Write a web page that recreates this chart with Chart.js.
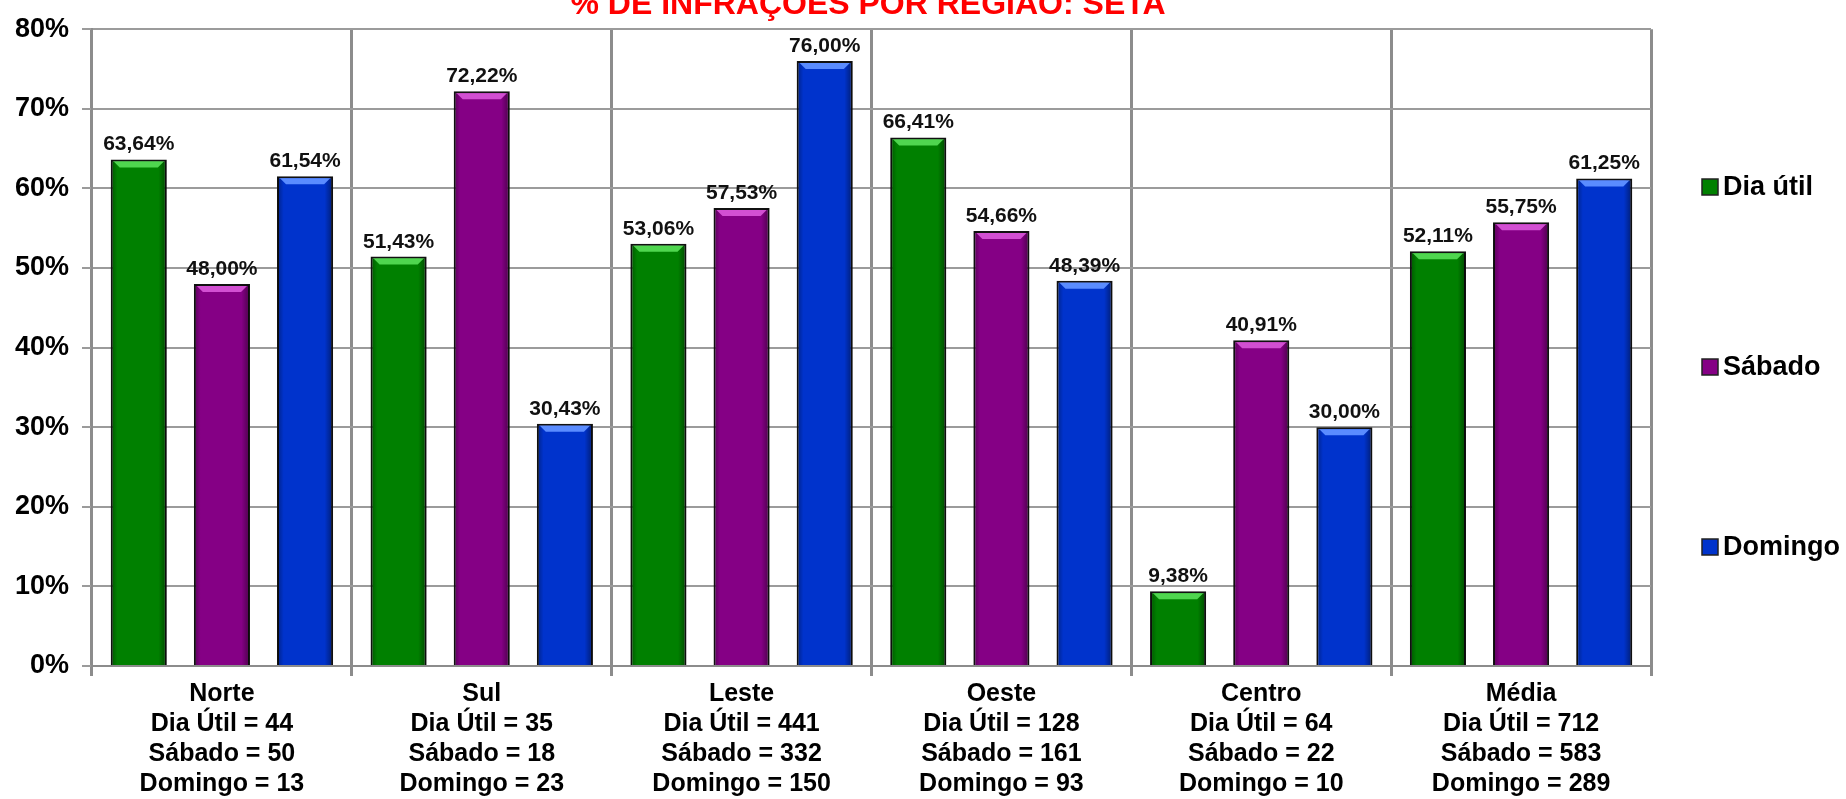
<!DOCTYPE html>
<html>
<head>
<meta charset="utf-8">
<script src="https://cdn.jsdelivr.net/npm/chart.js@4.4.1/dist/chart.umd.min.js"></script>
<style>
  html, body { margin: 0; padding: 0; background: #fff; }
  #wrap { width: 1846px; height: 799px; position: relative; }
</style>
</head>
<body>
<div id="wrap"><canvas id="chart"></canvas></div>
<script>
const titleText = "% DE INFRAÇÕES POR REGIÃO: SETA";
const regions = ["Norte", "Sul", "Leste", "Oeste", "Centro", "Média"];
const seriesNames = ["Dia útil", "Sábado", "Domingo"];

// percentuais
const diaUtil = [63.64, 51.43, 53.06, 66.41, 9.38, 52.11];
const sabado = [48.00, 72.22, 57.53, 54.66, 40.91, 55.75];
const domingo = [61.54, 30.43, 76.00, 48.39, 30.00, 61.25];

// quantidades mostradas abaixo de cada região
const nDiaUtil = [44, 35, 441, 128, 64, 712];
const nSabado = [50, 18, 332, 161, 22, 583];
const nDomingo = [13, 23, 150, 93, 10, 289];

const yTicks = [0, 10, 20, 30, 40, 50, 60, 70, 80];

const colors = ["#008000", "#850085", "#0033cc"];
const lightColors = ["#4fd64f", "#d24fd2", "#5a8cff"];
const FONT = '"Liberation Sans", Arial, sans-serif';

const labels = regions.map((r, i) => [
  r,
  "Dia Útil = " + nDiaUtil[i],
  "Sábado = " + nSabado[i],
  "Domingo = " + nDomingo[i],
]);

function fmt(v) {
  return v.toFixed(2).replace(".", ",") + "%";
}

// titulo (cortado no topo como no original)
const titlePlugin = {
  id: "titleTop",
  afterDraw(chart) {
    const ctx = chart.ctx;
    ctx.save();
    ctx.font = "bold 32px " + FONT;
    ctx.fillStyle = "#ff0000";
    ctx.textAlign = "center";
    ctx.textBaseline = "alphabetic";
    ctx.fillText(titleText, 868, 14);
    ctx.restore();
  },
};

// brilho no topo das barras + rótulos de valor
const barDeco = {
  id: "barDeco",
  afterDatasetsDraw(chart) {
    const ctx = chart.ctx;
    ctx.save();
    chart.data.datasets.forEach((ds, di) => {
      const meta = chart.getDatasetMeta(di);
      meta.data.forEach((bar, i) => {
        const w = bar.width;
        const l = bar.x - w / 2;
        const r = bar.x + w / 2;
        const t = bar.y;
        // sombra nas laterais
        const g = ctx.createLinearGradient(l, 0, r, 0);
        g.addColorStop(0, "rgba(0,0,0,0.35)");
        g.addColorStop(0.12, "rgba(0,0,0,0)");
        g.addColorStop(0.85, "rgba(0,0,0,0)");
        g.addColorStop(1, "rgba(0,0,0,0.45)");
        ctx.fillStyle = g;
        ctx.fillRect(l + 1, t + 1, w - 2, bar.base - t - 1);
        // chanfro superior
        ctx.beginPath();
        ctx.moveTo(l + 3, t + 2);
        ctx.lineTo(r - 3, t + 2);
        ctx.lineTo(r - 9, t + 8);
        ctx.lineTo(l + 9, t + 8);
        ctx.closePath();
        ctx.fillStyle = lightColors[di];
        ctx.fill();

        ctx.font = "bold 21px " + FONT;
        ctx.fillStyle = "#111";
        ctx.textAlign = "center";
        ctx.textBaseline = "alphabetic";
        ctx.fillText(fmt(ds.data[i]), bar.x, t - 9);
      });
    });
    ctx.restore();
  },
};

// legenda à direita, itens bem espaçados
const sideLegend = {
  id: "sideLegend",
  afterDraw(chart) {
    const ctx = chart.ctx;
    const x = chart.chartArea.right + 51;
    const ys = [187, 367, 547];
    ctx.save();
    chart.data.datasets.forEach((ds, i) => {
      const y = ys[i];
      ctx.fillStyle = ds.backgroundColor;
      ctx.fillRect(x, y - 8, 16, 16);
      ctx.strokeStyle = "#222";
      ctx.lineWidth = 1.5;
      ctx.strokeRect(x, y - 8, 16, 16);
      ctx.font = "bold 27px " + FONT;
      ctx.fillStyle = "#000";
      ctx.textAlign = "left";
      ctx.textBaseline = "middle";
      ctx.fillText(ds.label, x + 21, y + 1);
    });
    ctx.restore();
  },
};

const ctx = document.getElementById("chart").getContext("2d");
new Chart(ctx, {
  type: "bar",
  data: {
    labels: labels,
    datasets: [diaUtil, sabado, domingo].map((d, i) => ({
      label: seriesNames[i],
      data: d,
      backgroundColor: colors[i],
      borderColor: "#111",
      borderWidth: 2,
      categoryPercentage: 0.96,
      barPercentage: 0.675,
    })),
  },
  options: {
    responsive: true,
    maintainAspectRatio: false,
    animation: false,
    layout: { padding: { top: 25, right: 195, left: 0, bottom: 0 } },
    plugins: {
      legend: { display: false },
      title: { display: false },
      tooltip: { enabled: false },
    },
    scales: {
      x: {
        grid: {
          offset: true,
          color: "#8c8c8c",
          lineWidth: 3,
          tickLength: 10,
        },
        border: { color: "#8c8c8c", width: 2 },
        ticks: {
          color: "#000",
          padding: 3,
          font: { family: FONT, size: 25, weight: "bold", lineHeight: "30px" },
        },
        afterFit(scale) {
          scale.height = 133;
        },
      },
      y: {
        min: 0,
        max: 80,
        afterBuildTicks(scale) {
          scale.ticks = yTicks.map((v) => ({ value: v }));
        },
        grid: { color: "#9b9b9b", lineWidth: 2, tickLength: 10 },
        border: { color: "#8c8c8c", width: 2 },
        ticks: {
          color: "#000",
          padding: 13,
          font: { family: FONT, size: 27, weight: "bold" },
          callback: (v) => v + "%",
        },
        afterFit(scale) {
          scale.width = 92;
        },
      },
    },
  },
  plugins: [titlePlugin, barDeco, sideLegend],
});
</script>
</body>
</html>
